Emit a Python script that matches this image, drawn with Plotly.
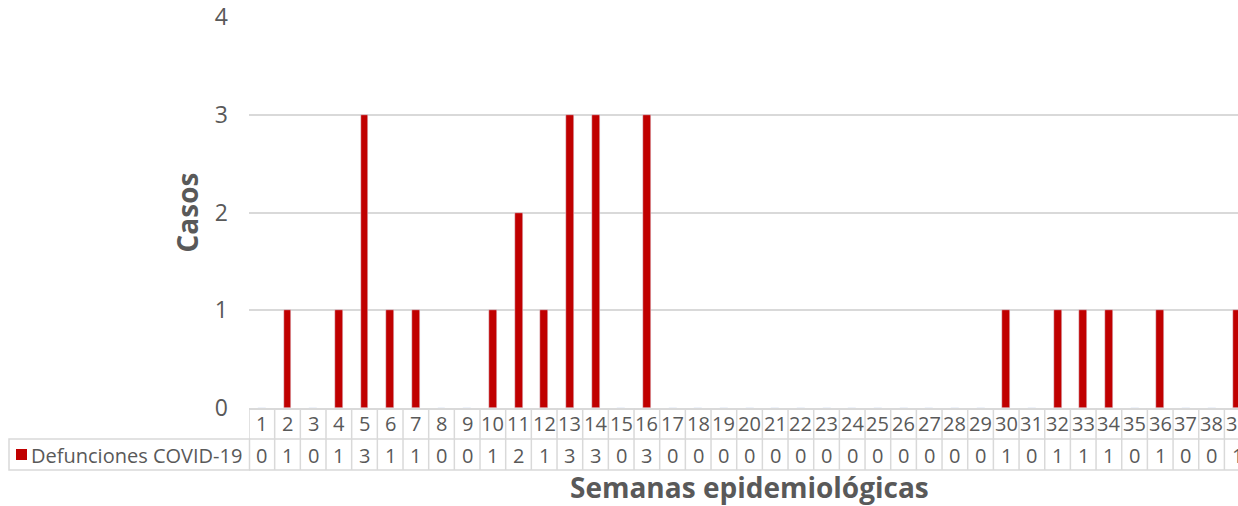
import plotly.graph_objects as go

weeks = list(range(1, 40))
week_labels = [str(w) for w in weeks]
defunciones = [0, 1, 0, 1, 3, 1, 1, 0, 0, 1, 2, 1, 3, 3, 0, 3, 0, 0, 0, 0,
               0, 0, 0, 0, 0, 0, 0, 0, 0, 1, 0, 1, 1, 1, 0, 1, 0, 0, 1]
series_name = "Defunciones COVID-19"
y_title = "Casos"
x_title = "Semanas epidemiológicas"

W, H = 1238, 506
L, R, T, B = 249, 0, 17, 98
plot_w = W - L - R
plot_h = H - T - B

RED = "#c00000"
GRID = "#d9d9d9"
TXT = "#595959"
FONT = "Open Sans"


def py(px):
    """pixel y (from top) -> paper y"""
    return (H - B - px) / plot_h


def pxx(px):
    return (px - L) / plot_w


fig = go.Figure()
fig.add_trace(go.Bar(x=weeks, y=defunciones, marker_color=RED, width=0.31,
                     name=series_name, showlegend=False, hoverinfo="x+y"))

shapes = []
row1_top, row1_bot, row2_bot = H - B, 439, 470
# horizontal table lines
for yy in (row1_bot, row2_bot):
    shapes.append(dict(type="line", xref="x", yref="paper", x0=0.5, x1=len(weeks) + 0.5,
                       y0=py(yy), y1=py(yy), line=dict(color=GRID, width=1.5)))
# vertical cell lines
for k in range(len(weeks) + 1):
    shapes.append(dict(type="line", xref="x", yref="paper", x0=k + 0.5, x1=k + 0.5,
                       y0=py(row1_top), y1=py(row2_bot), line=dict(color=GRID, width=1.5)))
# legend cell
shapes.append(dict(type="rect", xref="paper", yref="paper", x0=pxx(9), x1=pxx(249.5),
                   y0=py(row1_bot), y1=py(row2_bot), line=dict(color=GRID, width=1.5)))
shapes.append(dict(type="rect", xref="paper", yref="paper", x0=pxx(16), x1=pxx(27),
                   y0=py(460), y1=py(449), fillcolor=RED, line=dict(width=0)))

cell_font = dict(family=FONT, size=20, color=TXT)
annotations = []
for w, lab, v in zip(weeks, week_labels, defunciones):
    annotations.append(dict(x=w, y=py(423.5), xref="x", yref="paper", text=lab,
                            xanchor="center", yanchor="middle", showarrow=False, font=cell_font))
    annotations.append(dict(x=w, y=py(455), xref="x", yref="paper", text=str(v),
                            xanchor="center", yanchor="middle", showarrow=False, font=cell_font))
annotations.append(dict(x=pxx(29), y=py(455), xref="paper", yref="paper", text=series_name,
                        xanchor="left", yanchor="middle", showarrow=False, font=cell_font))
annotations.append(dict(x=pxx(186), y=0.5, xref="paper", yref="paper", text="<b>" + y_title + "</b>",
                        xanchor="center", yanchor="middle",
                        textangle=-90, showarrow=False, font=dict(family=FONT, size=28, color=TXT)))
annotations.append(dict(x=pxx(749), y=py(487), xref="paper", yref="paper", text="<b>" + x_title + "</b>",
                        xanchor="center", yanchor="middle",
                        showarrow=False, font=dict(family=FONT, size=28, color=TXT)))

fig.update_layout(
    width=W, height=H, margin=dict(l=L, r=R, t=T, b=B, autoexpand=False),
    paper_bgcolor="white", plot_bgcolor="white",
    font=dict(family=FONT, color=TXT),
    shapes=shapes, annotations=annotations, bargap=0,
    xaxis=dict(range=[0.5, 39.03], showticklabels=False, showgrid=False, zeroline=False,
               showline=True, linecolor=GRID, linewidth=1.5, ticks=""),
    yaxis=dict(range=[0, 4], dtick=1, showgrid=True, gridcolor=GRID, gridwidth=1.5,
               zeroline=False, showline=False, ticks="", ticklabelstandoff=20,
               tickfont=dict(family=FONT, size=23, color=TXT)),
)

fig.write_html("out.html", config={"displayModeBar": False},
               post_script="document.body.style.margin='0';document.body.style.padding='0';"
                           "document.body.style.overflow='hidden';")
